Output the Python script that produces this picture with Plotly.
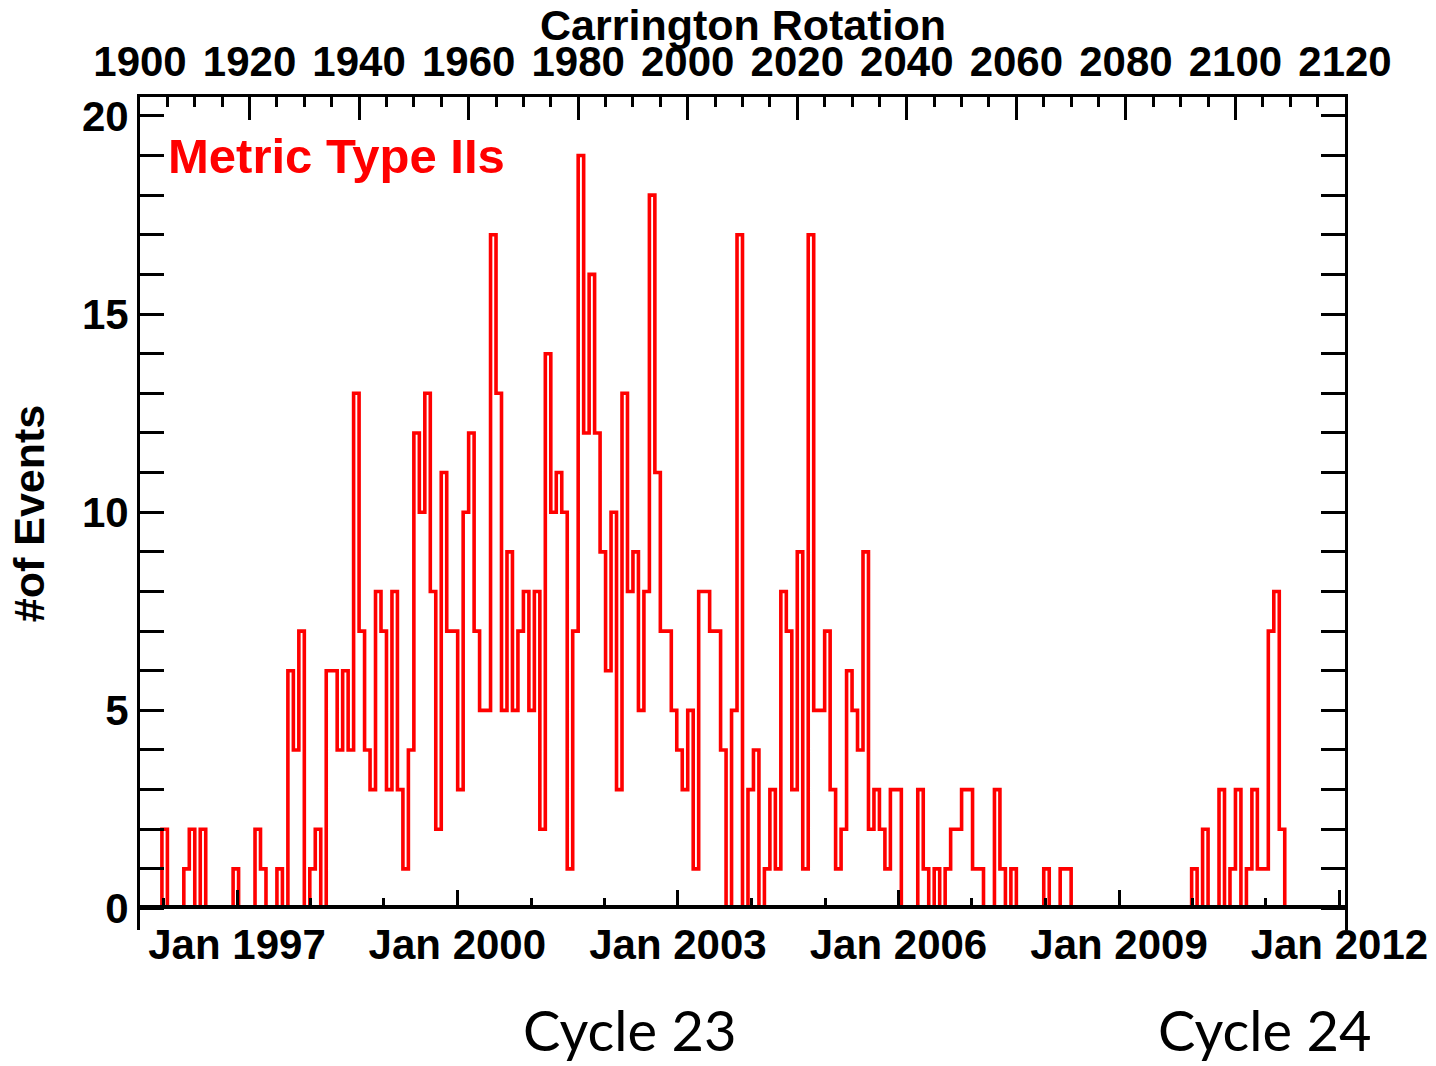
import plotly.graph_objects as go

# Metric type II radio bursts counted per Carrington rotation, CR 1904 onward
first_rotation = 1904
counts_cr1904_1933 = [2, 0, 0, 0, 1, 2, 0, 2, 0, 0, 0, 0, 0, 1, 0, 0, 0, 2, 1, 0,
                      0, 1, 0, 6, 4, 7, 0, 1, 2, 0]
counts_cr1934_1963 = [6, 6, 4, 6, 4, 13, 7, 4, 3, 8, 7, 3, 8, 3, 1, 4, 12, 10, 13, 8,
                      2, 11, 7, 7, 3, 10, 12, 7, 5, 5]
counts_cr1964_1993 = [17, 13, 5, 9, 5, 7, 8, 5, 8, 2, 14, 10, 11, 10, 1, 7, 19, 12, 16, 12,
                      9, 6, 10, 3, 13, 8, 9, 5, 8, 18]
counts_cr1994_2023 = [11, 7, 7, 5, 4, 3, 5, 1, 8, 8, 7, 7, 4, 0, 5, 17, 0, 3, 4, 0,
                      1, 3, 1, 8, 7, 3, 9, 1, 17, 5]
counts_cr2024_2053 = [5, 7, 3, 1, 2, 6, 5, 4, 9, 2, 3, 2, 1, 3, 3, 0, 0, 0, 3, 1,
                      0, 1, 0, 1, 2, 2, 3, 3, 1, 1]
counts_cr2054_2083 = [0, 0, 3, 1, 0, 1, 0, 0, 0, 0, 0, 1, 0, 0, 1, 1, 0, 0, 0, 0,
                      0, 0, 0, 0, 0, 0, 0, 0, 0, 0]
counts_cr2084_2108 = [0, 0, 0, 0, 0, 0, 0, 0, 1, 0, 2, 0, 0, 3, 0, 1, 3, 0, 1, 3,
                      1, 1, 7, 8, 2]

# Axis annotations
rotation_range = [1900, 2120]
count_range = [-0.5425, 20.477]
date_range = ["1995-09-07", "2012-01-29"]
date_tick_values = ["1997-01-01", "2000-01-01", "2003-01-01", "2006-01-01", "2009-01-01", "2012-01-01"]
date_tick_labels = ["Jan 1997", "Jan 2000", "Jan 2003", "Jan 2006", "Jan 2009", "Jan 2012"]
cycle_labels = ["Cycle 23", "Cycle 24"]
cycle_label_x = [0.4066, 0.9336]

counts = (counts_cr1904_1933 + counts_cr1934_1963 + counts_cr1964_1993 + counts_cr1994_2023
          + counts_cr2024_2053 + counts_cr2054_2083 + counts_cr2084_2108)
rotations = [first_rotation + i for i in range(len(counts))]

# Histogram outline, one closed step path per run of non-empty rotations,
# so nothing is drawn along the zero line itself (the date axis sits there)
step_x, step_y = [], []
i = 0
while i < len(counts):
    if counts[i] == 0:
        i += 1
        continue
    j = i
    while j < len(counts) and counts[j] > 0:
        j += 1
    step_x += [rotations[i]] + rotations[i:j] + [rotations[j - 1] + 1, None]
    step_y += [0] + counts[i:j] + [0, None]
    i = j

PLOT_HEIGHT_PX = 1066 - 97 - 136
DATE_LINE_WIDTH = 3.5
# The calendar axis sits on the zero line of the count scale, inside the frame;
# nudge it up by half its line width so the line is centred on zero
zero_position = (0 - count_range[0]) / (count_range[1] - count_range[0]) + (DATE_LINE_WIDTH / 2) / PLOT_HEIGHT_PX

FONT = "Liberation Sans, Arial, Helvetica, sans-serif"
RED = "#ff0000"

fig = go.Figure()
fig.add_trace(go.Scatter(
    x=step_x, y=step_y, mode="lines", line_shape="hv", connectgaps=False,
    line=dict(color=RED, width=3.6), xaxis="x", yaxis="y",
    hoverinfo="skip", showlegend=False,
))
# Empty companion trace so the calendar axis gets its own subplot and is drawn
fig.add_trace(go.Scatter(x=[], y=[], xaxis="x2", yaxis="y", mode="lines",
                         hoverinfo="skip", showlegend=False))

tick_font = dict(family=FONT, size=42, color="black", weight="bold")

fig.update_layout(
    width=1436, height=1066, autosize=False,
    margin=dict(l=140, r=91, t=97, b=136, pad=0),
    paper_bgcolor="white", plot_bgcolor="white",
    font=dict(family=FONT, color="black"),
    showlegend=False,
    # Carrington rotation scale along the top
    xaxis=dict(
        side="top", range=rotation_range, tickmode="linear", tick0=1900, dtick=20,
        ticks="inside", ticklen=23, tickwidth=3, tickcolor="black", ticklabelstandoff=1,
        minor=dict(dtick=5, tick0=1900, ticks="inside", ticklen=10, tickwidth=3, tickcolor="black"),
        showline=True, linewidth=3, linecolor="black", showgrid=False, zeroline=False,
        tickfont=tick_font, automargin=False,
    ),
    # Calendar scale along the zero line
    xaxis2=dict(
        type="date", overlaying="x", side="bottom", anchor="free", position=zero_position,
        range=date_range, automargin=False,
        tickmode="array", tickvals=date_tick_values, ticktext=date_tick_labels,
        ticks="inside", ticklen=15, tickwidth=3, tickcolor="black", ticklabelstandoff=0,
        minor=dict(dtick="M12", tick0="1996-01-01", ticks="inside", ticklen=7, tickwidth=3, tickcolor="black"),
        showline=True, linewidth=DATE_LINE_WIDTH, linecolor="black", showgrid=False, zeroline=False,
        tickfont=tick_font,
    ),
    yaxis=dict(
        range=count_range, tickmode="linear", tick0=0, dtick=5,
        ticks="inside", ticklen=24, tickwidth=3, tickcolor="black",
        minor=dict(dtick=1, tick0=0, ticks="inside", ticklen=12, tickwidth=3, tickcolor="black"),
        showline=True, linewidth=3, linecolor="black", mirror="allticks",
        showgrid=False, zeroline=False, automargin=False,
        tickfont=tick_font,
        title=dict(text="#of Events", font=dict(family=FONT, size=43, weight="bold"), standoff=24),
    ),
)

# Title of the Carrington rotation scale
fig.add_annotation(
    text="Carrington Rotation", xref="paper", yref="paper", x=0.5, y=1.0864,
    xanchor="center", yanchor="middle", showarrow=False,
    font=dict(family=FONT, size=43, color="black", weight="bold"),
)

fig.add_annotation(
    text="Metric Type IIs", xref="paper", yref="paper", x=0.0216, y=0.929,
    xanchor="left", yanchor="middle", showarrow=False,
    font=dict(family=FONT, size=49, color=RED, weight="bold"),
)

for label, xpos in zip(cycle_labels, cycle_label_x):
    fig.add_annotation(
        text=label, xref="paper", yref="paper", x=xpos, y=-0.120,
        xanchor="center", yanchor="middle", showarrow=False,
        font=dict(family="Lato, Open Sans, sans-serif", size=56, color="black"),
    )

fig.write_html("out.html")
